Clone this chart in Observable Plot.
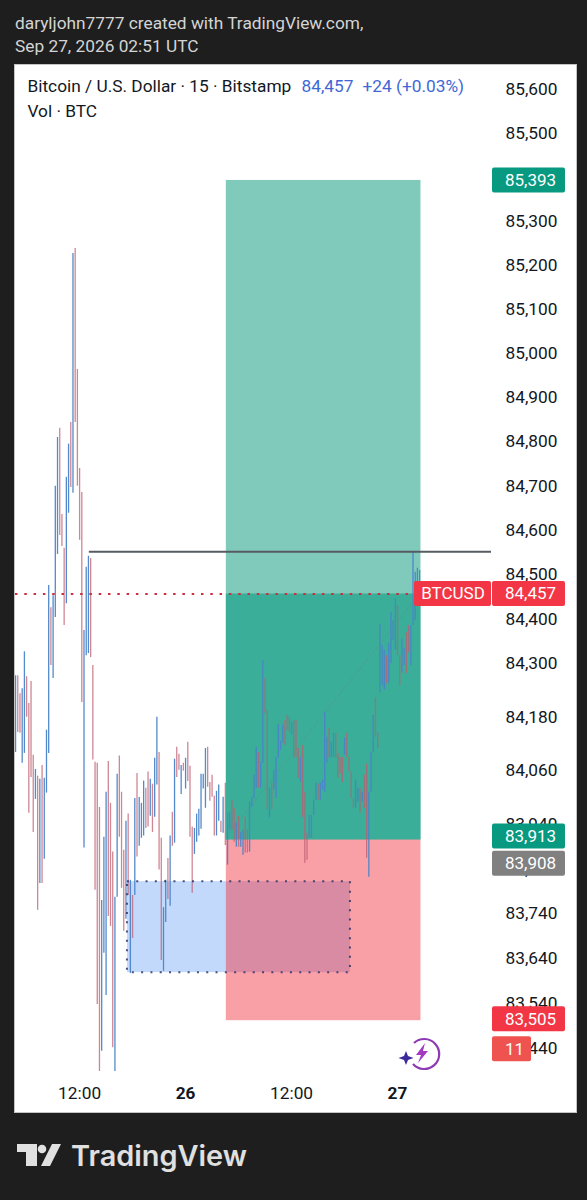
<!DOCTYPE html>
<html>
<head>
<meta charset="utf-8">
<script src="https://cdn.jsdelivr.net/npm/d3@7"></script>
<script src="https://cdn.jsdelivr.net/npm/@observablehq/plot@0.6"></script>
<style>
html,body{margin:0;padding:0;background:#1e1e1e;width:587px;height:1200px;overflow:hidden;font-family:Roboto,sans-serif}
#head{position:absolute;left:15px;top:12px;color:#d4d4d4;font-size:17.3px;line-height:23px;white-space:nowrap}
#chart{position:absolute;left:15px;top:65px;width:561px;height:1047px;box-shadow:0 0 0 1px #c4c4c4}
#chart svg{display:block}
#foot{position:absolute;left:0;top:1130px}
#bolt{position:absolute;left:395px;top:1033px}
</style>
</head>
<body>
<div id="head">daryljohn7777 created with TradingView.com,<br>Sep 27, 2026 02:51 UTC</div>
<div id="chart"></div>
<svg id="bolt" width="46" height="40" viewBox="395 1033 46 40">
  <path d="M414 1043 A15 15 0 1 1 413 1064" fill="none" stroke="#8e3bb3" stroke-width="2.2"/>
  <path d="M406 1051 L408 1056 L413.5 1058 L408 1060 L406 1065 L404 1060 L398.5 1058 L404 1056 Z" fill="#3c2a9a"/>
  <path d="M425 1043 L416 1055 L421 1055 L418 1063 L428 1051 L423 1051 Z" fill="#a23bc0"/>
</svg>
<svg id="foot" width="300" height="50" viewBox="0 1130 300 50">
  <path d="M17 1144 H37 V1166 H26 V1152 H17 Z" fill="#e0e0e0"/>
  <circle cx="42" cy="1149" r="4.3" fill="#e0e0e0"/>
  <path d="M52 1144 H61 L50 1166 H41 Z" fill="#e0e0e0"/>
  <text x="71" y="1166" font-family="Inter" font-weight="600" font-size="28.5" fill="#e0e0e0" textLength="176" lengthAdjust="spacingAndGlyphs">TradingView</text>
</svg>
<script>
// 15-minute bars, first bar 2026-09-25 04:45 UTC
const highs = [
84273,84273,84233,84244,84327,84271,84211,84260,84095,84063,
84048,84041,84072,84043,84151,84476,84426,84453,84700,84810,
84831,84636,84560,84720,84795,84844,85227,85238,84964,84740,
84686,84375,84517,84542,84537,84296,84079,84077,83978,83770,
83911,84012,84081,83987,83878,83777,84052,84093,84012,83882,
83947,83963,83815,83781,83998,84054,84000,83987,84037,84021,
84057,84041,84030,84088,84180,84101,83909,83754,83815,83864,
83914,83967,84086,84113,84097,84072,84077,84088,84124,84070,
83934,83931,83963,83974,84052,84052,84110,84113,84034,84050,
84003,84014,84028,83947,84001,84032,83965,83967,83994,83976,
83943,83958,83922,83927,83956,83927,83990,84001,84050,84113,
84101,84079,84307,84267,84196,84021,84032,84061,84090,84164,
84126,84162,84173,84184,84180,84169,84173,84173,84110,84090,
84117,84012,83920,83960,83960,83994,84032,84030,84032,84039,
84191,84135,84155,84124,84144,84144,84099,84090,84090,84133,
84144,84090,84057,83998,84039,84021,84021,84012,84050,84075,
84012,84101,84184,84224,84146,84388,84341,84330,84318,84345,
84415,84397,84447,84431,84318,84356,84334,84370,84386,84386,
84551,84506,84515,84510];
const lows = [
84101,84146,84144,84077,84099,84180,83965,84045,83922,83996,
83748,83808,83808,83862,84010,84099,84296,84267,84404,84546,
84589,84564,84386,84435,84639,84697,84684,84844,84700,84578,
84213,83887,84318,84323,84314,84084,83793,83538,83389,83434,
83652,83558,83734,83712,83442,83389,83777,83911,83797,83701,
83728,83781,83607,83685,83781,83867,83891,83909,83914,83931,
83934,83958,83922,83956,84028,83838,83636,83612,83721,83772,
83757,83891,83898,84045,84061,84007,84059,84019,84036,83911,
83786,83873,83900,83914,83929,84019,83976,84023,83992,84001,
83914,83914,83947,83922,83920,83893,83849,83927,83927,83900,
83889,83889,83889,83871,83876,83876,83878,83978,83998,84021,
84021,84021,84077,84189,83972,83954,83972,84017,83998,84088,
84106,84122,84117,84151,84146,84140,84088,84090,84043,84034,
83956,83853,83860,83909,83909,83960,83994,83994,83994,84017,
84012,84077,84088,84088,84090,84088,84043,84054,84034,84095,
84090,84057,83998,83976,83976,83990,83965,83990,83976,83864,
83822,84012,84101,84135,84110,84235,84251,84242,84255,84257,
84300,84352,84330,84318,84251,84280,84296,84278,84325,84296,
84386,84397,84442,84442];
const dirs = (
"URRUURRRRU" +
"RURUUURUUU" +
"RRRUURURRR" +
"RUUURRRRRU" +
"UURRRUURRR" +
"URURURUUUR" +
"RURUURRUUR" +
"URURRURURR" +
"RUUUUUURRR" +
"RUURURUURR" +
"URUURRUUUU" +
"RUURRURUUU" +
"UURRRURRRU" +
"RRRUUUURUU" +
"UURUURRRRU" +
"RRRRUURURR" +
"UUURRUUURU" +
"UUURRUURRU" +
"UUUU").split("");
const priceTicks = [85600,85500,85400,85300,85200,85100,85000,84900,84800,84700,84600,84500,84400,84300,84180,84060,83940,83840,83740,83640,83540,83440];
const hourTicks = [new Date("2026-09-25T12:00Z"), new Date("2026-09-26T12:00Z")];
const dayTicks = [new Date("2026-09-26T00:00Z"), new Date("2026-09-27T00:00Z")];

const firstBar = new Date("2026-09-25T04:45Z");
const domainStart = new Date("2026-09-25T04:44:32Z"), domainEnd = new Date("2026-09-27T10:38:18Z");
const toolStart = new Date("2026-09-26T04:37Z"), toolEnd = new Date("2026-09-27T02:39Z");
const zoneStart = new Date("2026-09-25T17:25Z"), zoneEnd = new Date("2026-09-26T18:40Z");
const lineStart = new Date("2026-09-25T13:06Z");
const targetPrice = 85393, lastPrice = 84457, entryPrice = 83905, stopPrice = 83502;
const zoneTop = 83812, zoneBottom = 83609, resistance = 84552;
const lastBar = new Date("2026-09-27T02:30Z");

const bars = highs.map((h,i)=>({
  t: d3.utcMinute.offset(firstBar, 15*i), h, l: lows[i], d: dirs[i]
}));

const badgeLabels = ["85,393","84,457","83,913","83,908","83,505"];
const badgePrices = [85393,84457,83913,83908,83505];
const badgeFills  = ["#089981","#f23645","#089981","#808080","#f23645"];
const badgeShift  = [0,0,0,25,0];

function badges(index, scales, values, dim){
  const g = d3.create("svg:g").attr("font-family","Roboto").attr("font-size",17);
  const left = dim.width - dim.marginRight + 1;
  function box(x,y,w,h,fill,label,tx,anchor){
    g.append("rect").attr("x",x).attr("y",y).attr("width",w).attr("height",h).attr("rx",2).attr("fill",fill);
    g.append("text").attr("x",tx).attr("y",y+h/2).attr("dy","0.35em").attr("text-anchor",anchor||"start").attr("fill","#fff").text(label);
  }
  badgeLabels.forEach((lab,i)=>{
    const cy = scales.y(badgePrices[i]) + badgeShift[i];
    box(left, cy-12.5, 73, 25, badgeFills[i], lab, left+13);
  });
  const y0 = scales.y(lastPrice);
  box(left-78, y0-12.5, 77, 25, "#f23645", "BTCUSD", left-39, "middle");
  const ys = scales.y(83505)+30;
  box(left, ys-12.5, 39, 25, "#ef5350", "11", left+13);
  return g.node();
}

const fs = 17.3;
const chart = Plot.plot({
  width: 561, height: 1047,
  marginLeft: 0, marginRight: 85, marginTop: 0, marginBottom: 32,
  style: {background:"#fff", fontFamily:"Roboto", fontSize: fs+"px", color:"#131722"},
  x: {type:"utc", domain:[domainStart, domainEnd]},
  y: {type:"log", domain:[83369, 85655]},
  marks: [
    Plot.rect([0],{x1:()=>toolStart,x2:()=>toolEnd,y1:()=>entryPrice,y2:()=>targetPrice,fill:"#7fcabb"}),
    Plot.rect([0],{x1:()=>toolStart,x2:()=>toolEnd,y1:()=>entryPrice,y2:()=>lastPrice,fill:"#3aae98"}),
    Plot.rect([0],{x1:()=>zoneStart,x2:()=>zoneEnd,y1:()=>zoneBottom,y2:()=>zoneTop,fill:"#c2d9fb"}),
    Plot.rect([0],{x1:()=>toolStart,x2:()=>toolEnd,y1:()=>stopPrice,y2:()=>entryPrice,fill:"#f23645",fillOpacity:0.48}),
    Plot.line([{t:toolStart,p:83913},{t:lastBar,p:lastPrice}],{x:"t",y:"p",stroke:"#5e8f85",strokeWidth:1,strokeDasharray:"2 3",strokeOpacity:0.6}),
    Plot.ruleX(bars,{x:"t",y1:"l",y2:"h",stroke:d=>d.d==="U"?"#4a84c8":"#bd5d70",strokeOpacity:d=>d.d==="U"?0.95:0.75,strokeWidth:1.3}),
    Plot.rect([0],{x1:()=>zoneStart,x2:()=>zoneEnd,y1:()=>zoneBottom,y2:()=>zoneTop,fill:"none",stroke:"#2c3468",strokeOpacity:0.85,strokeWidth:2,strokeDasharray:"2 7.3"}),
    Plot.ruleY([resistance],{x1:()=>lineStart,x2:()=>domainEnd,stroke:"#555b60",strokeWidth:2}),
    Plot.ruleY([lastPrice],{x1:()=>domainStart,x2:()=>toolEnd,stroke:"#c8303f",strokeWidth:2,strokeDasharray:"2.5 6.8"}),
    Plot.text(priceTicks,{y:d=>d,text:d=>d3.format(",")(d),frameAnchor:"right",dx:14,textAnchor:"start",fontSize:fs,fill:"#131722"}),
    Plot.axisX({ticks:hourTicks,tickFormat:d3.utcFormat("%H:%M"),tickSize:0,tickPadding:6,label:null,fontSize:fs,fill:"#131722"}),
    Plot.axisX({ticks:dayTicks,tickFormat:d3.utcFormat("%-d"),tickSize:0,tickPadding:6,label:null,fontSize:fs,fontWeight:"bold",fill:"#131722"}),
    Plot.text(["Bitcoin / U.S. Dollar · 15 · Bitstamp"],{frameAnchor:"top-left",dx:12,dy:14,fontSize:fs,fill:"#131722",lineAnchor:"top"}),
    Plot.text(["84,457"],{frameAnchor:"top-left",dx:286,dy:14,fontSize:fs,fill:"#3f68d6",lineAnchor:"top"}),
    Plot.text(["+24 (+0.03%)"],{frameAnchor:"top-left",dx:347,dy:14,fontSize:fs,fill:"#3f68d6",lineAnchor:"top"}),
    Plot.text(["Vol · BTC"],{frameAnchor:"top-left",dx:12,dy:39,fontSize:fs,fill:"#131722",lineAnchor:"top"}),
    badges
  ]
});
document.getElementById("chart").appendChild(chart);
</script>
</body>
</html>
